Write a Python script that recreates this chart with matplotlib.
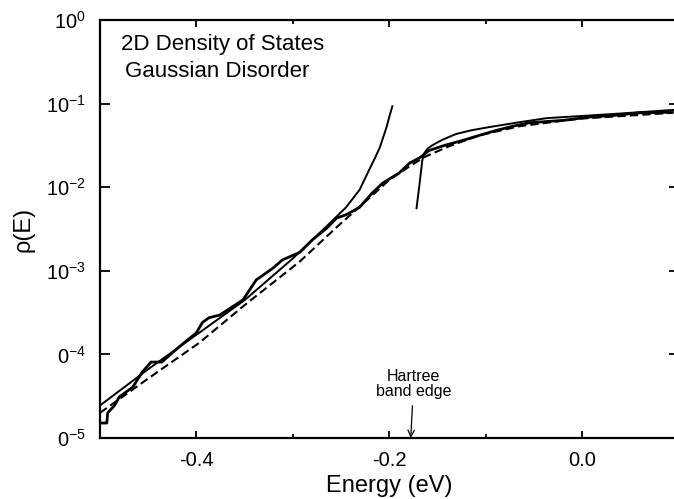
import matplotlib
matplotlib.use("Agg")
import matplotlib.pyplot as plt
from matplotlib.ticker import FixedLocator, FixedFormatter

plt.rcParams['font.family'] = ['Liberation Sans', 'DejaVu Sans']
plt.rcParams['mathtext.default'] = 'regular'
plt.rcParams['axes.unicode_minus'] = False

# low-energy tail expansion (solid, left)
tail_x = [-0.5, -0.449, -0.397, -0.350, -0.300, -0.262, -0.245, -0.231,
          -0.221, -0.215, -0.210, -0.203, -0.200, -0.197]
tail_rho = [2.45e-5, 6.8e-5, 1.82e-4, 4.47e-4, 1.41e-3, 3.7e-3, 5.75e-3, 9.3e-3,
            1.62e-2, 2.24e-2, 3.0e-2, 5.25e-2, 7.1e-2, 9.3e-2]

# Hartree / band curve (solid, right)
band_x = [-0.172, -0.169, -0.166, -0.164, -0.161, -0.157, -0.152, -0.145,
          -0.131, -0.115, -0.096, -0.065, -0.037, 0.031, 0.094]
band_rho = [5.6e-3, 1.06e-2, 2.1e-2, 2.55e-2, 2.85e-2, 3.1e-2, 3.35e-2, 3.7e-2,
            4.33e-2, 4.8e-2, 5.25e-2, 6.0e-2, 6.7e-2, 7.5e-2, 8.4e-2]

# interpolating theory (dashed)
dash_x = [-0.5, -0.449, -0.397, -0.350, -0.293, -0.252, -0.221, -0.200,
          -0.179, -0.164, -0.138, -0.107, -0.065, -0.003, 0.094]
dash_rho = [2.0e-5, 5.25e-5, 1.38e-4, 3.9e-4, 1.29e-3, 3.55e-3, 7.4e-3, 1.23e-2,
            1.78e-2, 2.29e-2, 3.1e-2, 4.17e-2, 5.37e-2, 6.6e-2, 7.76e-2]

# numerical data (jagged)
sim_x = [-0.5, -0.493, -0.492, -0.485, -0.480, -0.466, -0.456, -0.447, -0.436,
         -0.431, -0.418, -0.400, -0.394, -0.387, -0.376, -0.363, -0.352, -0.338,
         -0.321, -0.311, -0.293, -0.280, -0.265, -0.255, -0.245, -0.231, -0.218,
         -0.207, -0.197, -0.190, -0.179, -0.169, -0.162, -0.159, -0.143, -0.124,
         -0.107, -0.089, -0.072, -0.055, -0.020, 0.007, 0.031, 0.059, 0.093]
sim_rho = [1.51e-5, 1.51e-5, 2.0e-5, 2.45e-5, 3.1e-5, 4.07e-5, 6.2e-5, 8.1e-5, 8.1e-5,
           9.1e-5, 1.23e-4, 1.82e-4, 2.4e-4, 2.75e-4, 2.95e-4, 3.7e-4, 4.47e-4, 7.8e-4,
           1.07e-3, 1.35e-3, 1.66e-3, 2.34e-3, 3.24e-3, 4.27e-3, 4.68e-3, 5.75e-3, 8.5e-3,
           1.12e-2, 1.32e-2, 1.48e-2, 1.95e-2, 2.24e-2, 2.57e-2, 2.75e-2, 3.16e-2, 3.63e-2,
           4.17e-2, 4.79e-2, 5.37e-2, 5.9e-2, 6.3e-2, 6.9e-2, 7.2e-2, 7.76e-2, 7.9e-2]

y_ticks = [1e-5, 1e-4, 1e-3, 1e-2, 1e-1, 1e0]
y_labels = ['$0^{-5}$', '$0^{-4}$', '$10^{-3}$', '$10^{-2}$', '$10^{-1}$', '$10^{0}$']
x_major = [-0.4, -0.2, 0.0]
x_labels = ['-0.4', '-0.2', '0.0']
x_minor = [-0.3, -0.1, 0.1]
edge_x = -0.178

fig = plt.figure(figsize=(6.74, 4.99), dpi=100)
ax = fig.add_axes([100 / 674, 61 / 499, 579 / 674, 418 / 499])

ax.plot(sim_x, sim_rho, color='black', lw=2.0)
ax.plot(dash_x, dash_rho, color='black', lw=1.5, dashes=(4, 2))
ax.plot(tail_x, tail_rho, color='black', lw=1.4)
ax.plot(band_x, band_rho, color='black', lw=1.4)

ax.set_yscale('log')
ax.set_xlim(-0.5, 0.1)
ax.set_ylim(1e-5, 1e0)

ax.yaxis.set_major_locator(FixedLocator(y_ticks))
ax.yaxis.set_major_formatter(FixedFormatter(y_labels))
ax.yaxis.set_minor_locator(FixedLocator([]))
ax.xaxis.set_major_locator(FixedLocator(x_major))
ax.xaxis.set_major_formatter(FixedFormatter(x_labels))
ax.xaxis.set_minor_locator(FixedLocator(x_minor))

ax.tick_params(axis='both', which='both', direction='in', top=True, right=True,
               width=1.3, color='black')
ax.tick_params(axis='y', which='major', length=7, labelsize=14.5, pad=10)
ax.tick_params(axis='x', which='major', length=5, labelsize=14.5, pad=9)
ax.tick_params(axis='x', which='minor', length=3)
for s in ax.spines.values():
    s.set_linewidth(1.6)
ax.spines['right'].set_visible(False)

ax.set_xlabel('Energy (eV)', fontsize=17, labelpad=4)
ax.set_ylabel('ρ(E)', fontsize=17, labelpad=8)

ax.text(0.036, 0.928, '2D Density of States', transform=ax.transAxes,
        fontsize=16, va='baseline')
ax.text(0.043, 0.863, 'Gaussian Disorder', transform=ax.transAxes,
        fontsize=16, va='baseline')

ax.annotate('Hartree\nband edge', xy=(edge_x, 1e-5), xytext=(edge_x + 0.003, 2.95e-5),
            textcoords='data', ha='center', va='bottom', fontsize=11.5,
            linespacing=0.95,
            arrowprops=dict(arrowstyle='->', color='black', lw=0.9,
                            shrinkA=3, shrinkB=0))

fig.savefig('out.png', dpi=100)
